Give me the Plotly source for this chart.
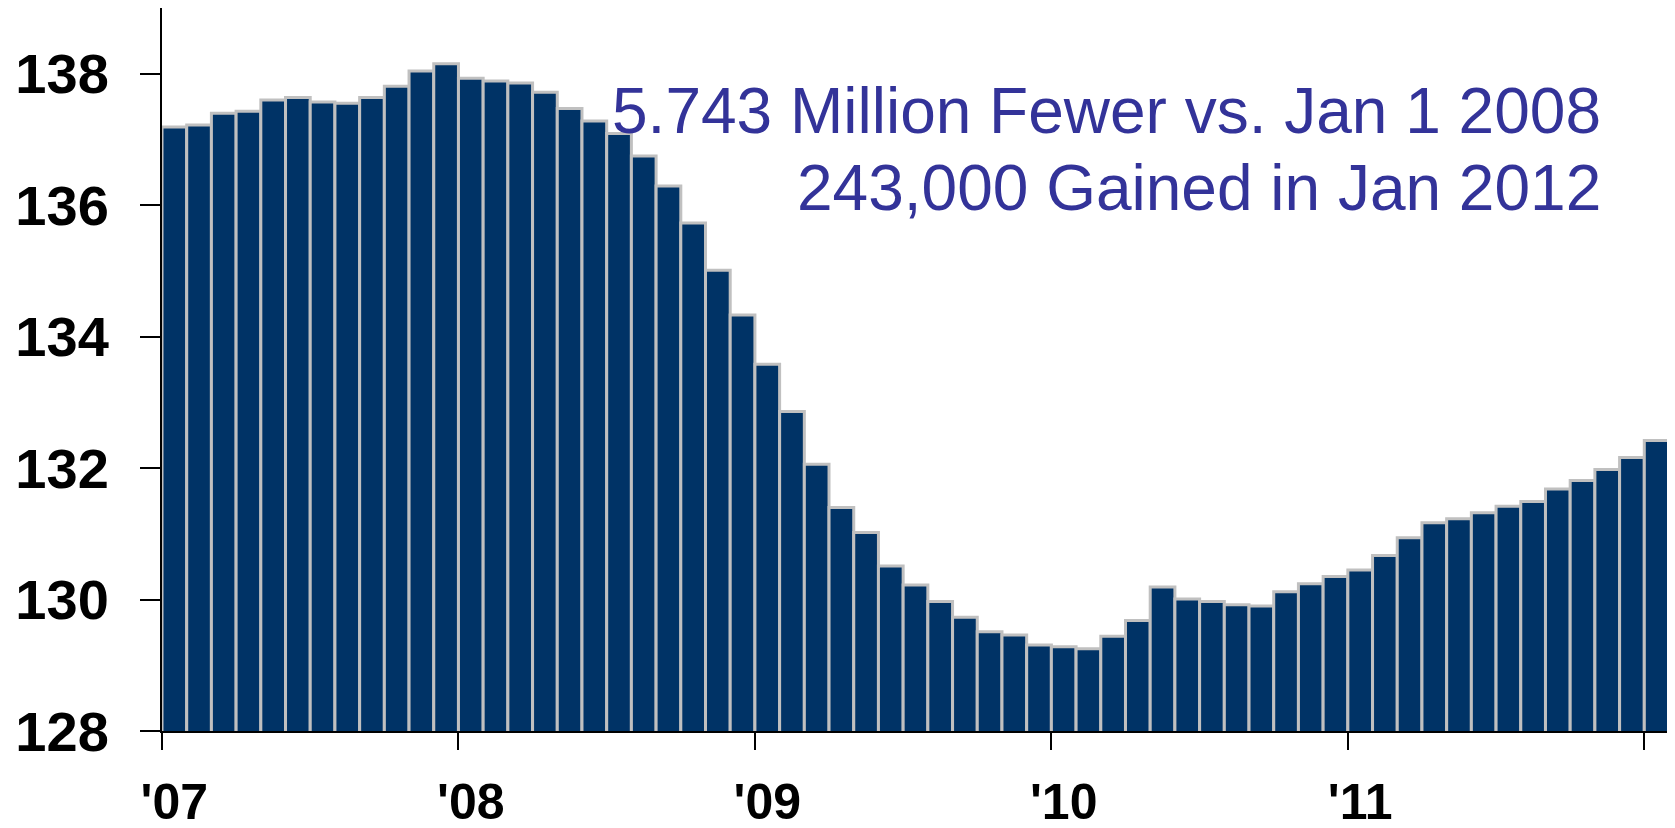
import plotly.graph_objects as go

# Nonfarm payroll employment (millions), monthly Jan 2007 - Jan 2012
employment = [
    137.19, 137.22, 137.40, 137.43, 137.60, 137.64, 137.57, 137.55, 137.64, 137.81, 138.04, 138.15,
    137.93, 137.89, 137.86, 137.72, 137.47, 137.28, 137.09, 136.75, 136.29, 135.73, 135.01, 134.33,
    133.58, 132.86, 132.06, 131.40, 131.02, 130.51, 130.22, 129.97, 129.73, 129.51, 129.46, 129.31,
    129.28, 129.25, 129.44, 129.68, 130.19, 130.01, 129.97, 129.92, 129.90, 130.12, 130.24, 130.35,
    130.45, 130.67, 130.94, 131.17, 131.23, 131.32, 131.42, 131.49, 131.68, 131.81, 131.98, 132.16,
    132.42,
]
year_labels = ["'07", "'08", "'09", "'10", "'11"]
y_ticks = [128, 130, 132, 134, 136, 138]
y_range = [128, 139]
note_line1 = "5.743 Million Fewer vs. Jan 1 2008"
note_line2 = "243,000 Gained in Jan 2012"

FONT = "Liberation Sans, Arial, sans-serif"
BAR_FILL = "#003366"
BAR_EDGE = "#C0C0C0"
TEXT_BLUE = "#333399"

x = list(range(len(employment)))
jan_idx = [i for i in x if i % 12 == 0][: len(year_labels)]
year_edges = [i - 0.5 for i in x if i % 12 == 0]
x_range = [-0.5, len(employment) - 0.5]

fig = go.Figure()
fig.add_trace(go.Bar(
    x=x, y=employment, width=1,
    marker=dict(color=BAR_FILL, line=dict(color=BAR_EDGE, width=3)),
    showlegend=False, hoverinfo="x+y",
))

# the page body has an 8px margin, so the figure is sized to fit the window
fig.update_layout(
    width=1667, height=820,
    margin=dict(l=154, r=6, t=0, b=97, autoexpand=False),
    paper_bgcolor="white", plot_bgcolor="white",
    font=dict(family=FONT, color="black"),
    showlegend=False,
    xaxis=dict(
        range=x_range, tickmode="array", tickvals=jan_idx, ticktext=year_labels,
        ticks="", showline=True, linecolor="black", linewidth=2,
        showgrid=False, zeroline=False, automargin=False,
        tickfont=dict(family=FONT, size=50, color="black", weight="bold"),
        ticklabelstandoff=26,
        minor=dict(tickmode="array", tickvals=year_edges, ticks="outside",
                   ticklen=17, tickwidth=2, tickcolor="black", showgrid=False),
    ),
    xaxis2=dict(
        overlaying="x", anchor="y", side="bottom", range=x_range,
        tickmode="array", tickvals=year_edges, ticks="inside", ticklen=15,
        tickwidth=2, tickcolor="black", showticklabels=False, automargin=False,
        showline=False, showgrid=False, zeroline=False,
    ),
    xaxis3=dict(
        overlaying="x", anchor="y", side="top", range=x_range,
        ticks="", showticklabels=False, showline=True, linecolor="#A0A0A0",
        linewidth=2, showgrid=False, zeroline=False, automargin=False,
    ),
    yaxis=dict(
        range=y_range, tickmode="array", tickvals=y_ticks,
        ticks="outside", ticklen=20, tickwidth=2, tickcolor="black",
        showline=True, linecolor="black", linewidth=2,
        showgrid=False, zeroline=False, automargin=False,
        tickfont=dict(family=FONT, size=56, color="black", weight="bold"),
        ticklabelstandoff=20,
    ),
    yaxis2=dict(
        overlaying="y", anchor="x", side="left", range=y_range,
        tickmode="array", tickvals=y_ticks, ticks="inside", ticklen=5,
        tickwidth=2, tickcolor="black", showticklabels=False, automargin=False,
        showline=False, showgrid=False, zeroline=False,
    ),
    yaxis3=dict(
        overlaying="y", anchor="x", side="right", range=y_range,
        ticks="", showticklabels=False, showline=True, linecolor="#A0A0A0",
        linewidth=2, showgrid=False, zeroline=False, automargin=False,
    ),
    annotations=[
        dict(text=note_line1, xref="paper", yref="paper", x=0.9565, y=0.8575,
             xanchor="right", yanchor="middle", showarrow=False,
             font=dict(family=FONT, size=64, color=TEXT_BLUE)),
        dict(text=note_line2, xref="paper", yref="paper", x=0.9565, y=0.7513,
             xanchor="right", yanchor="middle", showarrow=False,
             font=dict(family=FONT, size=64, color=TEXT_BLUE)),
    ],
)

fig.write_html("out.html")
